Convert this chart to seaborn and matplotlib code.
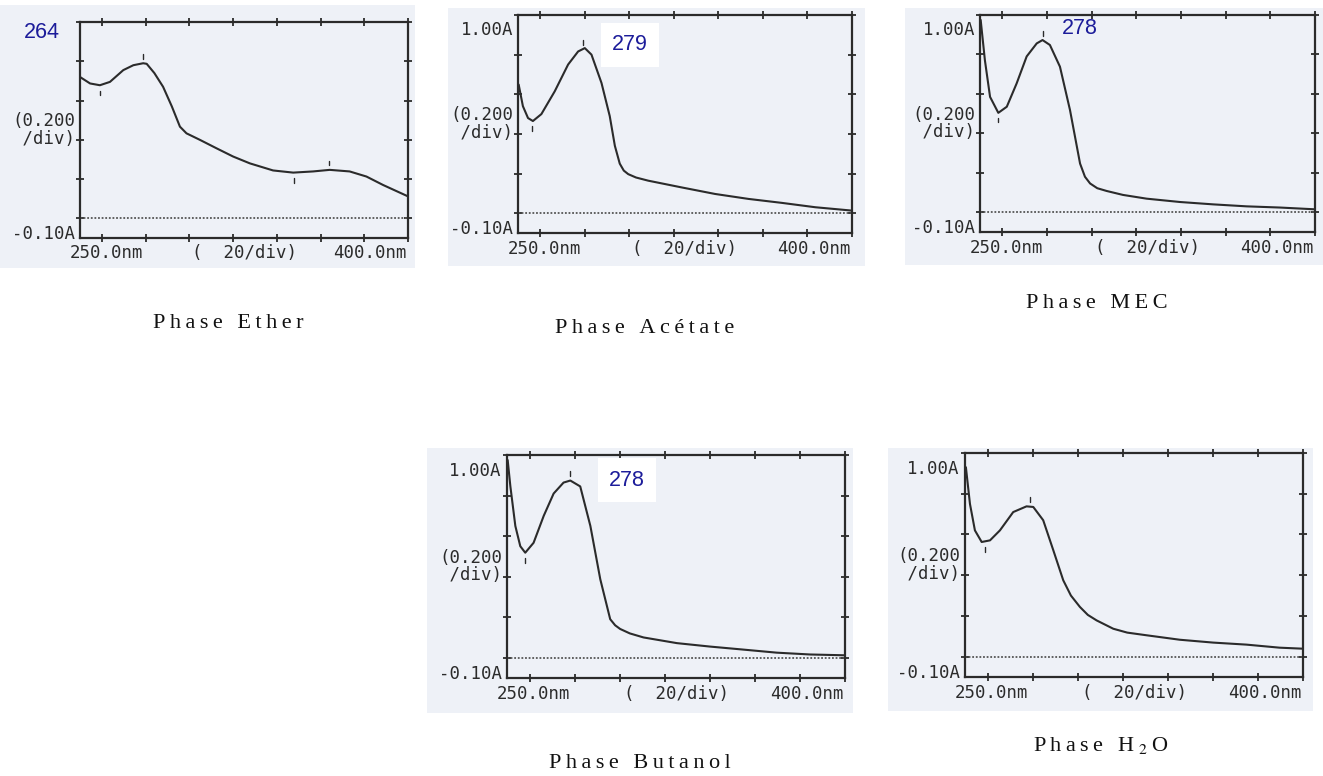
import numpy as np
import pandas as pd
import matplotlib
matplotlib.use("Agg")
import matplotlib.pyplot as plt
from matplotlib.patches import Rectangle
import seaborn as sns

# -----------------------------
# Spectres (nm, absorbance)
# -----------------------------
wl_ether = [250, 254.6, 259.1, 263.7, 269.8, 274.4, 278.9, 280.5, 284, 288, 292, 295.7, 298.7,
            304.8, 312.4, 320, 327.7, 338.3, 347.5, 356.6, 364.2, 373.3, 381, 388.6, 400]
abs_ether = [0.72, 0.687, 0.678, 0.695, 0.755, 0.78, 0.79, 0.787, 0.74, 0.67, 0.57, 0.467, 0.433,
             0.40, 0.357, 0.315, 0.28, 0.244, 0.233, 0.239, 0.247, 0.239, 0.213, 0.17, 0.112]

wl_acetate = [250.3, 252.2, 254.5, 256.7, 260.5, 266.5, 272.5, 277, 280, 283, 287.5, 291.2,
              293.5, 295.7, 297.5, 299.5, 303, 308.5, 323.5, 338.5, 353.5, 368.5, 383.5, 400]
abs_acetate = [0.649, 0.54, 0.48, 0.465, 0.50, 0.615, 0.75, 0.816, 0.833, 0.80, 0.657, 0.49,
               0.34, 0.25, 0.215, 0.197, 0.18, 0.164, 0.13, 0.097, 0.072, 0.052, 0.03, 0.013]

wl_mec = [250.3, 252.2, 254.5, 258.2, 262, 266.4, 270.9, 275.4, 278, 281.3, 285.8, 290.3,
          294.8, 297, 299.3, 302.5, 306.7, 314, 324.6, 339.6, 354.5, 369.4, 384.3, 400]
abs_mec = [0.975, 0.77, 0.585, 0.504, 0.535, 0.653, 0.79, 0.856, 0.873, 0.848, 0.738, 0.518,
           0.247, 0.18, 0.146, 0.122, 0.108, 0.088, 0.069, 0.052, 0.04, 0.03, 0.024, 0.015]

wl_butanol = [250.3, 251.5, 253.7, 255.9, 258.1, 261.8, 266.3, 270.7, 275.1, 278.1, 282.5, 287,
              291.4, 295.8, 298, 300.2, 304.5, 310.6, 325.4, 340.1, 355, 369.7, 384.5, 400]
abs_butanol = [0.975, 0.845, 0.65, 0.55, 0.518, 0.567, 0.70, 0.81, 0.864, 0.874, 0.845, 0.65,
               0.387, 0.19, 0.16, 0.142, 0.12, 0.10, 0.072, 0.055, 0.04, 0.025, 0.016, 0.012]

wl_h2o = [250.4, 252.2, 254.4, 257.4, 261.1, 265.5, 271.4, 277.3, 280.3, 284.7, 289.2, 293.6,
          297, 301, 304.5, 308.4, 315.8, 322, 330.5, 345.3, 360.1, 374.9, 389.6, 400]
abs_h2o = [0.93, 0.75, 0.62, 0.563, 0.571, 0.62, 0.71, 0.738, 0.735, 0.67, 0.522, 0.375,
           0.30, 0.244, 0.205, 0.178, 0.137, 0.118, 0.105, 0.083, 0.069, 0.059, 0.044, 0.039]

# repères (minima / maxima) marqués par l'appareil
marks_ether = [259, 279, 348, 364]
marks_acetate = [256.5, 279]
marks_mec = [258, 278]
marks_butanol = [258, 278]
marks_h2o = [259, 279]

titles = ["Phase Ether", "Phase Acétate", "Phase MEC", "Phase Butanol", "Phase H$_2$O"]
peak_labels = ["264", "279", "278", "278", None]

# -----------------------------
# Style
# -----------------------------
sns.set_theme(style="white")
plt.rcParams["font.family"] = ["DejaVu Sans"]
plt.rcParams["mathtext.fontset"] = "stix"

W, H = 1323, 776
fig = plt.figure(figsize=(W / 100, H / 100), dpi=100)
fig.patch.set_facecolor("white")

# position (px) : cadre du graphe, fond scanné, titre
layout = [
    dict(frame=(80, 22, 408, 238), bg=(0, 5, 415, 268), title=(228, 323)),
    dict(frame=(518, 15, 852, 233), bg=(448, 8, 865, 266), title=(645, 328)),
    dict(frame=(980, 15, 1315, 232), bg=(905, 8, 1323, 265), title=(1097, 304)),
    dict(frame=(507, 455, 845, 678), bg=(427, 448, 853, 713), title=(640, 764)),
    dict(frame=(965, 453, 1303, 677), bg=(888, 448, 1313, 711), title=(1101, 746)),
]

series = [
    (wl_ether, abs_ether, marks_ether),
    (wl_acetate, abs_acetate, marks_acetate),
    (wl_mec, abs_mec, marks_mec),
    (wl_butanol, abs_butanol, marks_butanol),
    (wl_h2o, abs_h2o, marks_h2o),
]

bg_col = "#eef1f7"
ink = "#2b2b2b"
blue = "#1c1c9a"
mono = "DejaVu Sans Mono"


def spaced(s):
    # espacement des lettres comme dans le document d'origine
    out = []
    i = 0
    while i < len(s):
        if s[i] == "$":
            j = s.index("$", i + 1)
            out.append(s[i:j + 1])
            i = j + 1
        else:
            out.append(s[i])
            i += 1
    return "\u2009".join(out)


for k, ((wl, ab, marks), lay) in enumerate(zip(series, layout)):
    x0, y0, x1, y1 = lay["frame"]
    bx0, by0, bx1, by1 = lay["bg"]
    fig.patches.append(Rectangle((bx0 / W, 1 - by1 / H), (bx1 - bx0) / W, (by1 - by0) / H,
                                 transform=fig.transFigure, facecolor=bg_col,
                                 edgecolor="none", zorder=-10))

    ax = fig.add_axes([x0 / W, 1 - y1 / H, (x1 - x0) / W, (y1 - y0) / H])
    ax.set_zorder(2)
    ax.set_facecolor(bg_col)
    df = pd.DataFrame({"nm": wl, "A": ab})
    sns.lineplot(data=df, x="nm", y="A", ax=ax, color=ink, linewidth=1.5,
                 solid_joinstyle="round")
    ax.axhline(0, color="#555555", linestyle=(0, (1, 1)), linewidth=1.3)

    # petits repères verticaux au-dessus/au-dessous des extrema
    for m in marks:
        yv = np.interp(m, wl, ab)
        left = np.interp(m - 4, wl, ab)
        off = 0.035 if yv >= left else -0.04
        ax.plot([m, m], [yv + off - 0.012, yv + off + 0.012], color=ink, lw=1)

    ax.set_xlim(250, 400)
    ax.set_ylim(-0.10, 1.00)
    ax.set_xticks(np.arange(260, 401, 20))
    ax.set_yticks(np.arange(0, 1.01, 0.2))
    ax.set_xticklabels([])
    ax.set_yticklabels([])
    ax.tick_params(direction="inout", length=6, width=1.3, color=ink,
                   top=True, right=True, bottom=True, left=True)
    for sp in ax.spines.values():
        sp.set_color(ink)
        sp.set_linewidth(1.6)
    ax.set_xlabel("")
    ax.set_ylabel("")

    # étiquettes de l'appareil
    fs = 12.5
    if k != 0:
        ax.text(-0.015, 0.93, "1.00A", transform=ax.transAxes, ha="right", va="center",
                fontsize=fs, family=mono, color=ink)
    ax.text(-0.015, 0.50, "(0.200\n /div)", transform=ax.transAxes, ha="right", va="center",
            fontsize=fs, family=mono, color=ink, linespacing=0.95)
    ax.text(-0.015, 0.02, "-0.10A", transform=ax.transAxes, ha="right", va="center",
            fontsize=fs, family=mono, color=ink)
    ax.text(-0.03, -0.03, "250.0nm", transform=ax.transAxes, ha="left", va="top",
            fontsize=fs, family=mono, color=ink)
    ax.text(0.50, -0.03, "(  20/div)", transform=ax.transAxes, ha="center", va="top",
            fontsize=fs, family=mono, color=ink)
    ax.text(0.995, -0.03, "400.0nm", transform=ax.transAxes, ha="right", va="top",
            fontsize=fs, family=mono, color=ink)

    tx, ty = lay["title"]
    fig.text(tx / W, 1 - ty / H, spaced(titles[k]), ha="center", va="center",
             fontsize=16, family=["Liberation Serif", "DejaVu Serif"], color="#111111")

# valeurs de lambda max ajoutées en bleu (la première masque le "1.00A")
fs_peak = 15.5
fig.text(42 / W, 1 - 33 / H, peak_labels[0], ha="center", va="center", fontsize=fs_peak,
         family="Liberation Sans", color=blue, zorder=5)
fig.text(630 / W, 1 - 45 / H, peak_labels[1], ha="center", va="center", fontsize=fs_peak,
         family="Liberation Sans", color=blue, zorder=5,
         bbox=dict(facecolor="white", edgecolor="none", pad=8))
fig.text(1080 / W, 1 - 28 / H, peak_labels[2], ha="center", va="center", fontsize=fs_peak,
         family="Liberation Sans", color=blue, zorder=5)
fig.text(627 / W, 1 - 480 / H, peak_labels[3], ha="center", va="center", fontsize=fs_peak,
         family="Liberation Sans", color=blue, zorder=5,
         bbox=dict(facecolor="white", edgecolor="none", pad=8))

fig.savefig("out.png", dpi=100)
